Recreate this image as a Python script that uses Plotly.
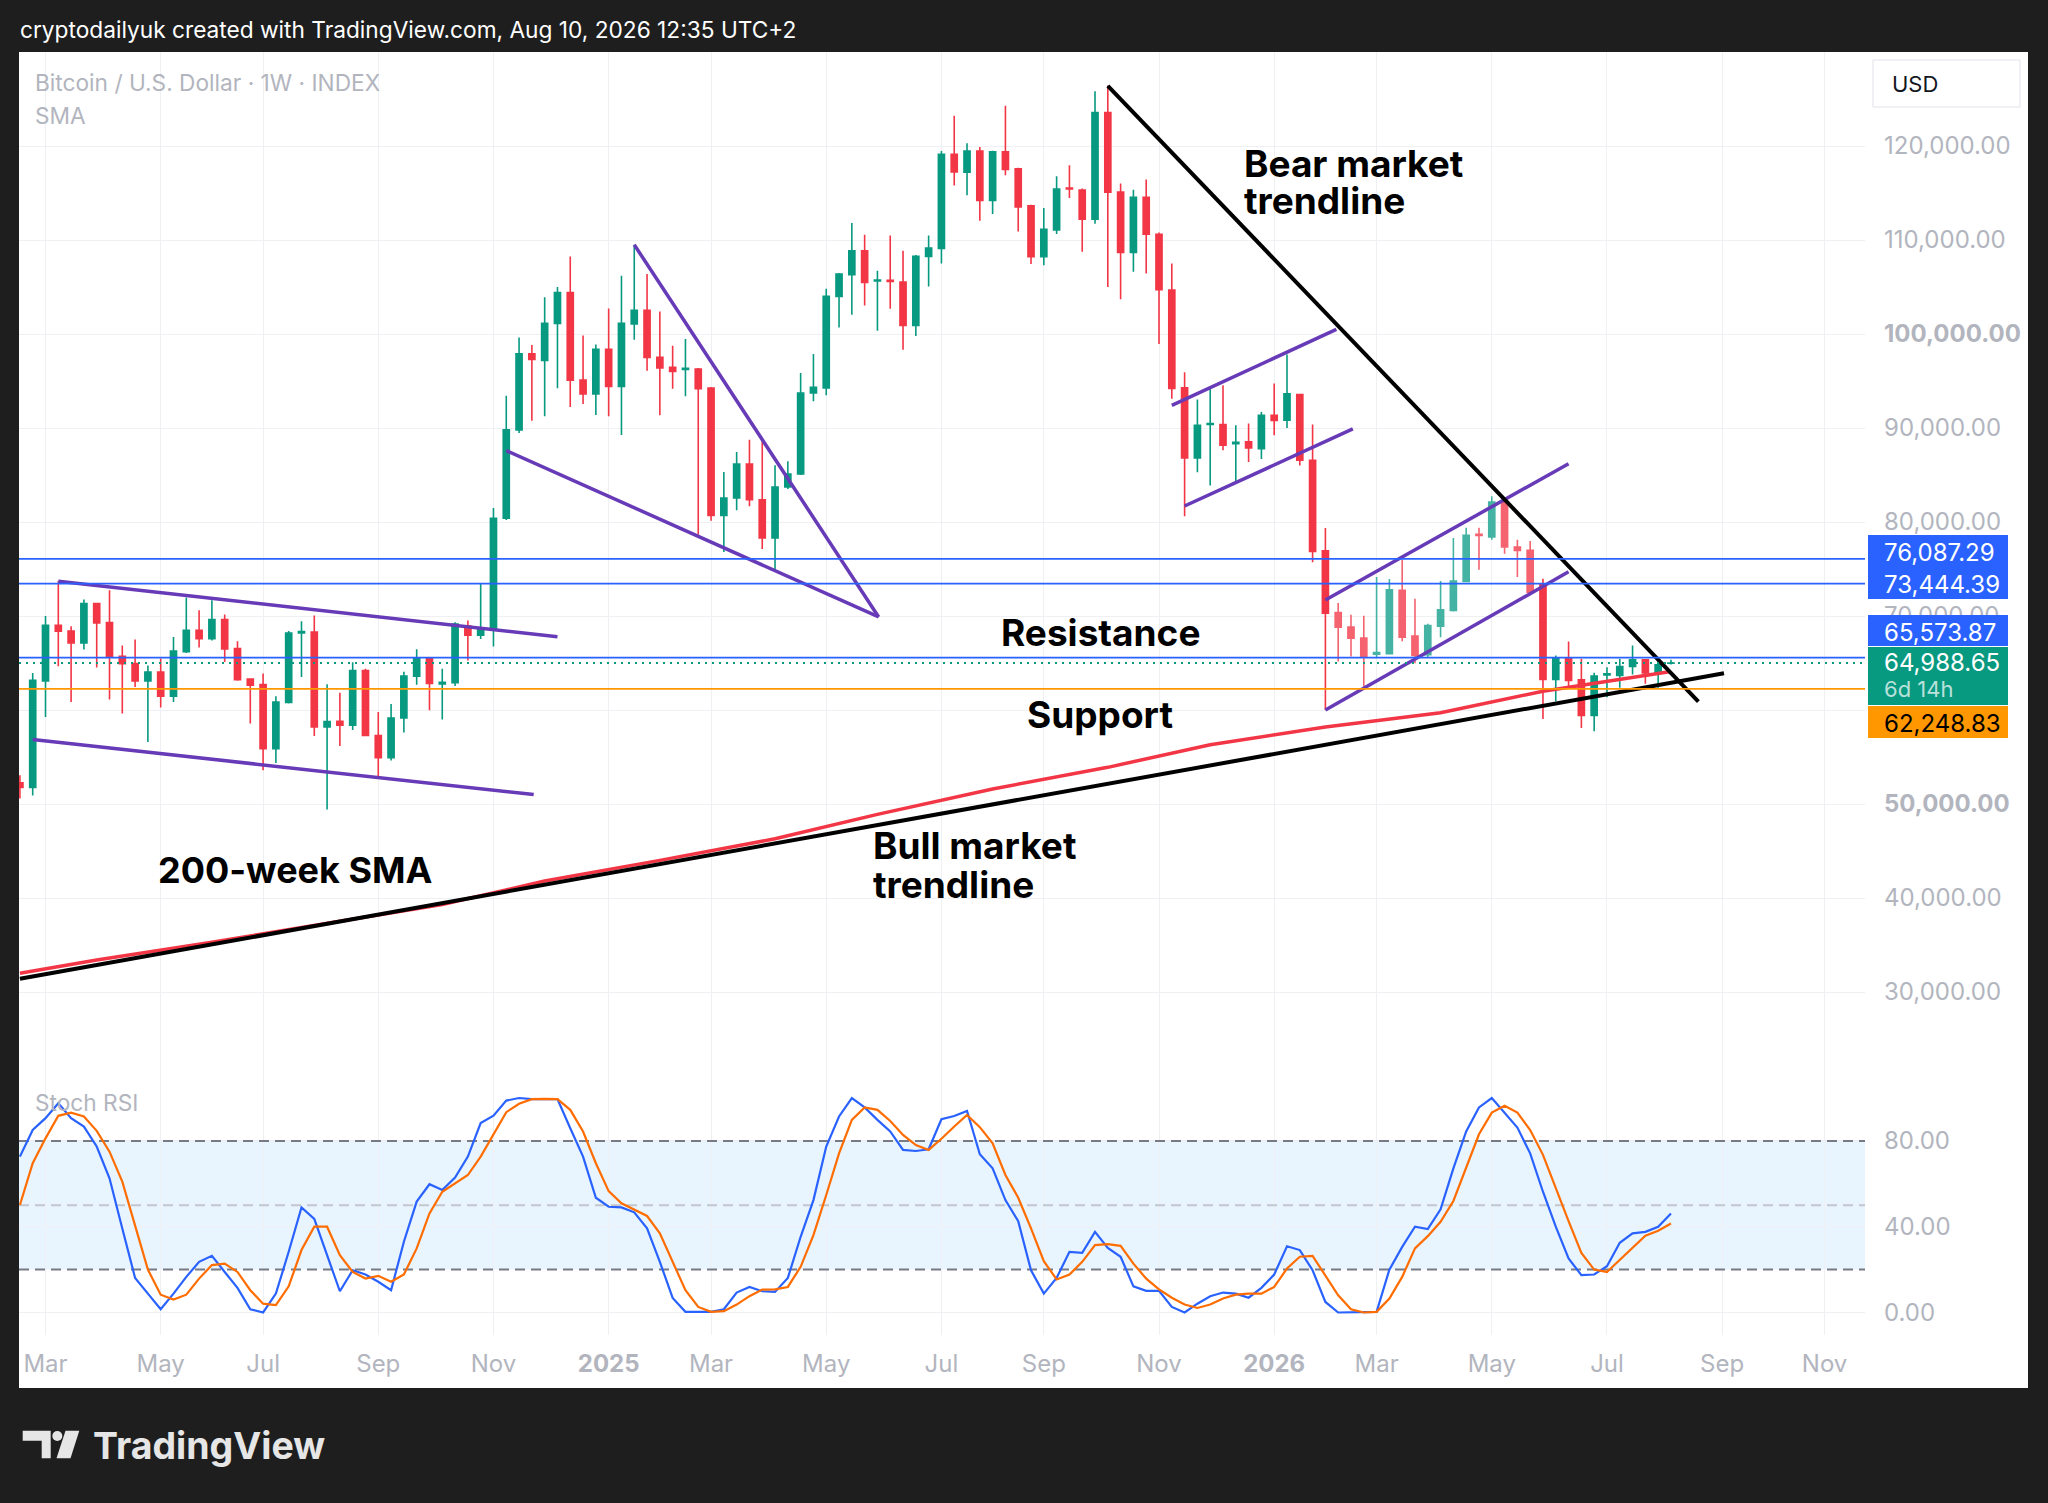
import plotly.graph_objects as go

# ---------------- DATA ----------------
week_dates = [
    "2024-02-19", "2024-02-26", "2024-03-04", "2024-03-11", "2024-03-18", "2024-03-25",
    "2024-04-01", "2024-04-08", "2024-04-15", "2024-04-22", "2024-04-29",
    "2024-05-06", "2024-05-13", "2024-05-20", "2024-05-27",
    "2024-06-03", "2024-06-10", "2024-06-17", "2024-06-24",
    "2024-07-01", "2024-07-08", "2024-07-15", "2024-07-22", "2024-07-29",
    "2024-08-05", "2024-08-12", "2024-08-19", "2024-08-26",
    "2024-09-02", "2024-09-09", "2024-09-16", "2024-09-23", "2024-09-30",
    "2024-10-07", "2024-10-14", "2024-10-21", "2024-10-28",
    "2024-11-04", "2024-11-11", "2024-11-18", "2024-11-25",
    "2024-12-02", "2024-12-09", "2024-12-16", "2024-12-23", "2024-12-30",
    "2025-01-06", "2025-01-13", "2025-01-20", "2025-01-27",
    "2025-02-03", "2025-02-10", "2025-02-17", "2025-02-24",
    "2025-03-03", "2025-03-10", "2025-03-17", "2025-03-24", "2025-03-31",
    "2025-04-07", "2025-04-14", "2025-04-21", "2025-04-28",
    "2025-05-05", "2025-05-12", "2025-05-19", "2025-05-26",
    "2025-06-02", "2025-06-09", "2025-06-16", "2025-06-23", "2025-06-30",
    "2025-07-07", "2025-07-14", "2025-07-21", "2025-07-28",
    "2025-08-04", "2025-08-11", "2025-08-18", "2025-08-25",
    "2025-09-01", "2025-09-08", "2025-09-15", "2025-09-22", "2025-09-29",
    "2025-10-06", "2025-10-13", "2025-10-20", "2025-10-27",
    "2025-11-03", "2025-11-10", "2025-11-17", "2025-11-24",
    "2025-12-01", "2025-12-08", "2025-12-15", "2025-12-22", "2025-12-29",
    "2026-01-05", "2026-01-12", "2026-01-19", "2026-01-26",
    "2026-02-02", "2026-02-09", "2026-02-16", "2026-02-23",
    "2026-03-02", "2026-03-09", "2026-03-16", "2026-03-23", "2026-03-30",
    "2026-04-06", "2026-04-13", "2026-04-20", "2026-04-27",
    "2026-05-04", "2026-05-11", "2026-05-18", "2026-05-25",
    "2026-06-01", "2026-06-08", "2026-06-15", "2026-06-22", "2026-06-29",
    "2026-07-06", "2026-07-13", "2026-07-20", "2026-07-27",
    "2026-08-03", "2026-08-10",
]

opens = [
    52245, 51750, 63100, 69000, 68400, 67134, 71317, 69296, 65700, 64936,
    63092, 64050, 61462, 66200, 68481, 67595, 69615, 66550, 63305, 62700,
    55896, 60800, 68198, 68300, 58200, 58788, 58393, 64200, 57288, 54917,
    59144, 63608, 65504, 62778, 62900, 68940, 67953, 68545, 80395, 89796,
    97894, 97183, 101133, 104411, 95089, 93628, 98368, 94418, 101057, 102511,
    97513, 96450, 96237, 96272, 94251, 80709, 82552, 86168, 82375, 78298,
    83722, 85105, 93719, 94251, 103999, 106304, 108856, 105631, 105701, 105524,
    100915, 108254, 109112, 119108, 117215, 119465, 114217, 119393, 117572, 113645,
    108219, 111075, 115537, 115323, 112217, 123570, 115109, 108683, 114538, 110611,
    104673, 94271, 86816, 90366, 90366, 88343, 88520, 87810, 91360, 90828,
    93561, 86568, 76947, 70380, 68818, 67646, 65942, 65978, 72722, 67859,
    65871, 68924, 70593, 73681, 78687, 78403, 82130, 77338, 76983, 73433,
    63244, 65516, 63209, 59410, 63741, 63670, 64628, 65339, 64025, 64984,
]

highs = [
    53060, 63943, 70005, 73727, 68906, 71743, 71400, 72735, 66850, 67489,
    64723, 65467, 67772, 71955, 70608, 71672, 70147, 67311, 63376, 63872,
    61462, 68411, 69438, 70041, 62738, 61830, 65069, 64400, 59776, 60645,
    64082, 66452, 65600, 64398, 69335, 69533, 73483, 81501, 93430, 99632,
    98842, 103898, 105004, 108243, 99829, 98881, 102713, 106200, 109494, 106375,
    102405, 98758, 99463, 96379, 94357, 85318, 87444, 88756, 88579, 86026,
    86452, 95846, 97867, 104814, 106500, 111798, 110558, 106729, 110487, 108856,
    108400, 110487, 119465, 123213, 120286, 119893, 119500, 124284, 117680, 113753,
    113396, 116787, 117965, 115466, 125819, 126426, 116001, 115359, 116430, 110790,
    107505, 95940, 93029, 94200, 94555, 90295, 90472, 91715, 94733, 97821,
    93632, 90366, 79361, 71374, 70131, 70024, 74142, 73930, 75989, 71835,
    69173, 73716, 78296, 79396, 79396, 82734, 82200, 78119, 77977, 73965,
    65800, 67291, 65445, 63954, 64557, 65445, 66865, 65400, 64984, 65339,
]

lows = [
    50578, 50900, 59264, 64652, 60859, 66425, 64510, 61107, 59618, 62454,
    56605, 60256, 60859, 66070, 66638, 67400, 65113, 63100, 58555, 53592,
    54372, 60700, 63518, 57243, 49408, 56181, 57880, 57200, 52943, 54641,
    57604, 62699, 59975, 58986, 62541, 65267, 67558, 66768, 80200, 89480,
    90784, 91258, 94220, 92245, 92561, 91376, 91258, 89250, 99391, 96095,
    91344, 94180, 93365, 78653, 80142, 76810, 81241, 81666, 77128, 74931,
    83500, 85000, 92833, 93471, 100702, 102050, 103042, 100348, 102688, 98333,
    99781, 105063, 107505, 115787, 114752, 112039, 112753, 116894, 110896, 107434,
    107327, 110647, 114466, 108755, 111718, 105006, 103685, 106613, 106435, 98937,
    93100, 80604, 85290, 83870, 87632, 84331, 86390, 86710, 89230, 90011,
    86000, 75705, 60013, 65161, 65694, 62500, 65516, 65900, 67326, 64984,
    65623, 67752, 70486, 73610, 74924, 78119, 76628, 74143, 72400, 59055,
    60937, 62428, 58096, 57741, 61363, 62357, 63777, 62783, 62357, 64842,
]

closes = [
    51750, 63163, 69012, 68375, 67134, 71317, 69261, 65645, 64936, 63092,
    64050, 61462, 66283, 68481, 67595, 69615, 66496, 63234, 62632, 55896,
    60859, 68198, 68340, 58200, 58767, 58393, 64200, 57288, 54917, 59144,
    63608, 65504, 62818, 62936, 69138, 67953, 68545, 80395, 89796, 97894,
    97301, 101133, 104411, 95089, 93628, 98368, 94418, 101133, 102511, 97513,
    96379, 96024, 96344, 94180, 80709, 82552, 86168, 82375, 78298, 83722,
    85105, 93719, 94322, 103999, 106375, 108856, 105489, 105737, 105595, 100915,
    108254, 109140, 119108, 117251, 119465, 114217, 119393, 117501, 113503, 108219,
    111146, 115430, 115430, 112217, 123570, 115073, 108683, 114538, 110611, 104720,
    94200, 86816, 90295, 90472, 88165, 88485, 87881, 91360, 90792, 93632,
    86568, 76876, 70309, 68818, 67646, 65694, 66120, 72794, 67752, 65800,
    68995, 70664, 73716, 78580, 78580, 82130, 77338, 76983, 72545, 63244,
    65552, 63138, 59410, 63599, 63847, 64628, 65339, 63954, 64806, 64988.65,
]

# candles drawn in the lighter tone (Feb 9 2026 - May 25 2026)
faded_first, faded_last = 103, 118

stoch_k = [
    72.7, 85.1, 90.6, 97.6, 90.6, 86.7, 77.4, 62.6, 39.2, 16.1,
    8.8, 1.5, 8.8, 16.6, 23.6, 26.4, 18.9, 11.5, 1.5, 0.0,
    8.8, 28.3, 49.0, 43.6, 26.7, 9.9, 19.7, 17.7, 14.3, 10.4,
    33.0, 51.7, 59.8, 57.1, 62.9, 72.7, 88.3, 91.8, 98.8, 100.0,
    99.5, 99.5, 99.5, 85.9, 72.7, 53.5, 49.3, 49.0, 46.7, 39.2,
    23.6, 6.8, 0.3, 0.3, 0.3, 1.5, 9.3, 11.9, 9.9, 9.6,
    16.1, 35.3, 52.4, 77.4, 91.4, 100.0, 95.6, 89.8, 84.4, 75.8,
    75.3, 76.1, 90.1, 91.6, 94.0, 73.8, 67.2, 52.4, 42.6, 19.7,
    8.8, 16.1, 28.3, 27.8, 37.6, 30.1, 26.0, 12.2, 10.1, 10.1,
    2.6, 0.0, 4.1, 7.6, 9.3, 8.8, 6.9, 11.5, 17.7, 30.9,
    29.1, 19.7, 4.9, 0.0, 0.0, 0.0, 0.3, 20.0, 30.6, 40.0,
    38.9, 48.1, 67.2, 84.4, 95.6, 100.0, 92.9, 86.2, 74.2, 56.3,
    40.0, 25.2, 17.4, 17.7, 21.6, 32.5, 36.9, 37.6, 40.0, 46.2,
]

stoch_d = [
    50.1, 69.6, 81.2, 91.7, 93.2, 91.4, 84.7, 75.0, 61.0, 40.7,
    20.0, 8.3, 6.0, 8.3, 15.8, 22.1, 22.8, 18.9, 10.4, 4.1,
    3.4, 12.2, 29.1, 40.0, 40.0, 26.7, 18.9, 15.8, 17.1, 14.3,
    17.7, 29.9, 46.2, 56.3, 60.2, 64.1, 72.7, 83.1, 93.4, 97.3,
    99.5, 99.6, 99.5, 94.5, 84.4, 69.6, 56.6, 50.9, 47.8, 45.0,
    36.9, 23.6, 10.4, 2.6, 0.3, 0.6, 3.7, 7.6, 10.7, 10.8,
    11.9, 21.3, 36.1, 54.8, 74.2, 89.8, 95.6, 94.5, 89.3, 82.8,
    78.1, 75.8, 81.0, 86.7, 92.1, 86.4, 78.9, 64.1, 53.5, 39.2,
    23.9, 15.4, 17.7, 23.6, 31.4, 31.9, 31.1, 22.8, 15.8, 10.8,
    6.9, 3.7, 2.1, 3.7, 6.5, 8.3, 8.8, 8.8, 11.9, 20.5,
    26.0, 26.4, 17.4, 8.0, 1.5, 0.0, 0.3, 6.5, 16.6, 29.9,
    35.6, 42.3, 52.0, 67.2, 83.1, 93.2, 96.4, 93.2, 85.1, 73.5,
    57.9, 42.6, 27.8, 20.0, 18.9, 24.4, 30.1, 35.8, 38.1, 41.5,
]

sma_dates = [
    "2024-02-19", "2024-04-01", "2024-06-03", "2024-08-05", "2024-10-07",
    "2024-12-02", "2025-02-03", "2025-04-07", "2025-06-02", "2025-08-04",
    "2025-10-06", "2025-12-01", "2026-02-02", "2026-04-06", "2026-06-01",
    "2026-08-10",
]
sma_values = [
    32000, 33400, 35300, 37300, 39300,
    41800, 44000, 46300, 48900, 51600,
    53900, 56300, 58200, 59700, 62000,
    64100,
]

# hand-drawn lines: (start date, end date, start price, end price)
purple_segments = [
    ("2024-03-11", "2024-12-09", 73700, 67800),
    ("2024-02-26", "2024-11-26", 56850, 51000),
    ("2025-01-20", "2025-06-02 16:00", 109500, 69900),
    ("2024-11-11", "2025-06-02 16:00", 87600, 69900),
    ("2025-11-10", "2026-02-08", 92400, 100500),
    ("2025-11-17", "2026-02-17", 81700, 89900),
    ("2026-02-02", "2026-06-15", 71700, 86200),
    ("2026-02-02", "2026-06-15", 60000, 74700),
]
black_segments = [
    ("2025-10-06", "2026-08-25", 126400, 60900),   # bear market trendline
    ("2024-02-19", "2026-09-08", 31400, 63900),    # bull market trendline
]

blue_levels = [76087.29, 73444.39, 65573.87]
last_price = 64988.65
orange_level = 62248.83
countdown = "6d 14h"

stoch_levels = [80, 50, 20]

x_range = ["2024-02-18 12:00", "2026-11-24 03:00"]
price_range = [21915, 130000]
stoch_range = [-10.5, 114]

month_ticks = [
    "2024-03-04", "2024-05-06", "2024-07-01", "2024-09-02", "2024-11-04",
    "2025-01-06", "2025-03-03", "2025-05-05", "2025-07-07", "2025-09-01",
    "2025-11-03", "2026-01-05", "2026-03-02", "2026-05-04", "2026-07-06",
    "2026-09-07", "2026-11-02",
]
month_labels = [
    "Mar", "May", "Jul", "Sep", "Nov", "<b>2025</b>", "Mar", "May", "Jul",
    "Sep", "Nov", "<b>2026</b>", "Mar", "May", "Jul", "Sep", "Nov",
]
price_ticks = [30000, 40000, 50000, 60000, 70000, 80000, 90000, 100000, 110000, 120000]
price_tick_labels = [
    "30,000.00", "40,000.00", "<b>50,000.00</b>", "", "70,000.00", "80,000.00",
    "90,000.00", "<b>100,000.00</b>", "110,000.00", "120,000.00",
]
stoch_ticks = [0, 40, 80]
stoch_tick_labels = ["0.00", "40.00", "80.00"]

# ---------------- STYLE / LAYOUT ----------------
W, H = 2048, 1503
L, R, T, B = 19, 1865, 52, 1335
SPLIT = 1068  # pixel row between price pane and oscillator pane
FONT = "Inter, Roboto, Arial, sans-serif"
GREEN, RED = "#089981", "#f23645"
GREEN_F, RED_F = "#45b3a3", "#f4636f"
BLUE, ORANGE, PURPLE = "#2962ff", "#ff9800", "#673ab7"
GRID = "#eef0f3"
TICK = "#b2b5be"
DARK = "#1e1e1e"


def fx(px):
    return (px - L) / (R - L)


def fy(py):
    return (B - py) / (B - T)


split_frac = (B - SPLIT) / (B - T)

fig = go.Figure()

normal_idx = [i for i in range(len(week_dates)) if not (faded_first <= i <= faded_last)]
faded_idx = [i for i in range(len(week_dates)) if faded_first <= i <= faded_last]


def pick(arr, idx):
    return [arr[i] for i in idx]


for idx, g, r in ((normal_idx, GREEN, RED), (faded_idx, GREEN_F, RED_F)):
    fig.add_trace(go.Candlestick(
        x=pick(week_dates, idx), open=pick(opens, idx), high=pick(highs, idx),
        low=pick(lows, idx), close=pick(closes, idx),
        increasing=dict(line=dict(color=g, width=1.6), fillcolor=g),
        decreasing=dict(line=dict(color=r, width=1.6), fillcolor=r),
        whiskerwidth=0, hoverinfo="skip", xaxis="x", yaxis="y",
    ))

fig.add_trace(go.Scatter(x=sma_dates, y=sma_values, mode="lines",
                         line=dict(color=RED, width=3.5), hoverinfo="skip",
                         xaxis="x", yaxis="y"))

for d0, d1, p0, p1 in purple_segments:
    fig.add_trace(go.Scatter(x=[d0, d1], y=[p0, p1], mode="lines",
                             line=dict(color=PURPLE, width=3.5), hoverinfo="skip",
                             xaxis="x", yaxis="y"))
for d0, d1, p0, p1 in black_segments:
    fig.add_trace(go.Scatter(x=[d0, d1], y=[p0, p1], mode="lines",
                             line=dict(color="#000000", width=4), hoverinfo="skip",
                             xaxis="x", yaxis="y"))

# stoch RSI reference levels
for lv in stoch_levels:
    fig.add_trace(go.Scatter(
        x=x_range, y=[lv, lv], mode="lines",
        line=dict(color="#c3c6cd" if lv == 50 else "#787b86", width=2, dash="10px,6px"),
        hoverinfo="skip", xaxis="x", yaxis="y2"))

fig.add_trace(go.Scatter(x=week_dates, y=stoch_k, mode="lines",
                         line=dict(color=BLUE, width=2.2), hoverinfo="skip",
                         xaxis="x", yaxis="y2"))
fig.add_trace(go.Scatter(x=week_dates, y=stoch_d, mode="lines",
                         line=dict(color="#ff6d00", width=2.2), hoverinfo="skip",
                         xaxis="x", yaxis="y2"))

shapes = []
# white chart panel
shapes.append(dict(type="rect", xref="paper", yref="paper", layer="below",
                   x0=fx(19), x1=fx(2028), y0=fy(52), y1=fy(1388),
                   fillcolor="#ffffff", line=dict(width=0)))
# stoch band
shapes.append(dict(type="rect", xref="paper", yref="y2", layer="below",
                   x0=0, x1=1, y0=20, y1=80,
                   fillcolor="rgba(33,150,243,0.10)", line=dict(width=0)))
# horizontal levels
for lv in blue_levels:
    shapes.append(dict(type="line", xref="paper", yref="y", layer="above",
                       x0=0, x1=1, y0=lv, y1=lv, line=dict(color=BLUE, width=1.8)))
shapes.append(dict(type="line", xref="paper", yref="y", layer="above",
                   x0=0, x1=1, y0=orange_level, y1=orange_level,
                   line=dict(color=ORANGE, width=1.8)))
shapes.append(dict(type="line", xref="paper", yref="y", layer="above",
                   x0=0, x1=1, y0=last_price, y1=last_price,
                   line=dict(color=GREEN, width=2, dash="2px,5px")))

annotations = []


def text(px, py, s, size, color, anchor="left", bold=False, box_h=None):
    a = dict(
        xref="paper", yref="paper", x=fx(px), y=fy(py), xanchor=anchor,
        yanchor="middle", showarrow=False, text=f"<b>{s}</b>" if bold else s,
        font=dict(family=FONT, size=size, color=color), borderpad=0)
    if box_h:
        a["height"] = box_h
    annotations.append(a)


# price label boxes on the price scale
box_rows = [
    (f"{blue_levels[0]:,.2f}", 535, 567, BLUE, "#ffffff"),
    (f"{blue_levels[1]:,.2f}", 567, 599, BLUE, "#ffffff"),
    (f"{blue_levels[2]:,.2f}", 615, 646, BLUE, "#ffffff"),
    (f"{orange_level:,.2f}", 706, 738, ORANGE, "#000000"),
]
for s, y0, y1, col, tcol in box_rows:
    shapes.append(dict(type="rect", xref="paper", yref="paper", layer="above",
                       x0=fx(1868), x1=fx(2008), y0=fy(y0), y1=fy(y1),
                       fillcolor=col, line=dict(width=0)))
    text(1883, (y0 + y1) / 2 + 1, s, 24, tcol, box_h=28)
shapes.append(dict(type="rect", xref="paper", yref="paper", layer="above",
                   x0=fx(1868), x1=fx(2008), y0=fy(647), y1=fy(705),
                   fillcolor=GREEN, line=dict(width=0)))
text(1883, 662, f"{last_price:,.2f}", 24, "#ffffff", box_h=26)
text(1883, 689, countdown, 22, "rgba(255,255,255,0.72)", box_h=24)

# USD box
shapes.append(dict(type="rect", xref="paper", yref="paper", layer="above",
                   x0=fx(1873), x1=fx(2020), y0=fy(60), y1=fy(107),
                   fillcolor="#ffffff", line=dict(color="#e0e3eb", width=1)))
text(1891, 84, "USD", 22, "#131722")

# header texts
text(19, 29, "cryptodailyuk created with TradingView.com, Aug 10, 2026 12:35 UTC+2", 22.7, "#ffffff")
text(34, 82, "Bitcoin / U.S. Dollar · 1W · INDEX", 22.7, TICK, box_h=28)
text(34, 115, "SMA", 22.7, TICK, box_h=28)
text(34, 1102, "Stoch RSI", 22.7, TICK)

# chart annotations
text(1243, 163, "Bear market", 37, "#000000", bold=True, box_h=36)
text(1243, 200, "trendline", 37, "#000000", bold=True, box_h=36)
text(1100, 632, "Resistance", 37, "#000000", anchor="center", bold=True)
text(1100, 714, "Support", 37, "#000000", anchor="center", bold=True)
text(295, 870, "200-week SMA", 36, "#000000", anchor="center", bold=True)
text(872, 845, "Bull market", 37, "#000000", bold=True, box_h=38)
text(872, 884, "trendline", 37, "#000000", bold=True, box_h=38)


# TradingView logo
def pth(points):
    return "M " + " L ".join(f"{fx(a)},{fy(b)}" for a, b in points) + " Z"


LOGO = "#e6e6e6"
shapes.append(dict(type="path", xref="paper", yref="paper", layer="above",
                   path=pth([(22.7, 1430.7), (50.7, 1430.7), (50.7, 1458.3),
                             (41.7, 1458.3), (41.7, 1440.7), (22.7, 1440.7)]),
                   fillcolor=LOGO, line=dict(width=0)))
shapes.append(dict(type="circle", xref="paper", yref="paper", layer="above",
                   x0=fx(52.3), x1=fx(62.3), y0=fy(1431), y1=fy(1441),
                   fillcolor=LOGO, line=dict(width=0)))
shapes.append(dict(type="path", xref="paper", yref="paper", layer="above",
                   path=pth([(65.5, 1430.7), (79.3, 1430.7), (70.5, 1458.3), (56.5, 1458.3)]),
                   fillcolor=LOGO, line=dict(width=0)))
text(92, 1445, "TradingView", 37.5, LOGO, bold=True)

axis_font = dict(family=FONT, size=24, color=TICK)

fig.update_layout(
    width=W, height=H, autosize=False,
    margin=dict(l=L, r=W - R, t=T, b=H - B, pad=0),
    paper_bgcolor=DARK, plot_bgcolor="rgba(0,0,0,0)",
    showlegend=False, boxgap=0.32,
    shapes=shapes, annotations=annotations,
    xaxis=dict(domain=[0, 1], anchor="y2", type="date", range=x_range,
               tickmode="array", tickvals=month_ticks, ticktext=month_labels,
               showgrid=True, gridcolor=GRID, gridwidth=1, zeroline=False,
               showline=False, ticks="", tickfont=axis_font, ticklabelstandoff=12,
               rangeslider=dict(visible=False), fixedrange=True),
    yaxis=dict(domain=[split_frac, 1], anchor="x", side="right", range=price_range,
               tickmode="array", tickvals=price_ticks, ticktext=price_tick_labels,
               showgrid=True, gridcolor=GRID, gridwidth=1, zeroline=False,
               showline=False, ticks="", tickfont=axis_font, ticklabelstandoff=18,
               fixedrange=True),
    yaxis2=dict(domain=[0, split_frac], anchor="x", side="right", range=stoch_range,
                tickmode="array", tickvals=stoch_ticks, ticktext=stoch_tick_labels,
                showgrid=True, gridcolor=GRID, gridwidth=1, zeroline=False,
                showline=False, ticks="", tickfont=axis_font, ticklabelstandoff=18,
                fixedrange=True),
)

page_fix = (
    "document.documentElement.style.margin='0';"
    "document.body.style.margin='0';document.body.style.padding='0';"
    "document.body.style.overflow='hidden';"
    f"document.body.style.background='{DARK}';"
)
fig.write_html("out.html", post_script=page_fix,
               config={"displayModeBar": False, "staticPlot": True})
